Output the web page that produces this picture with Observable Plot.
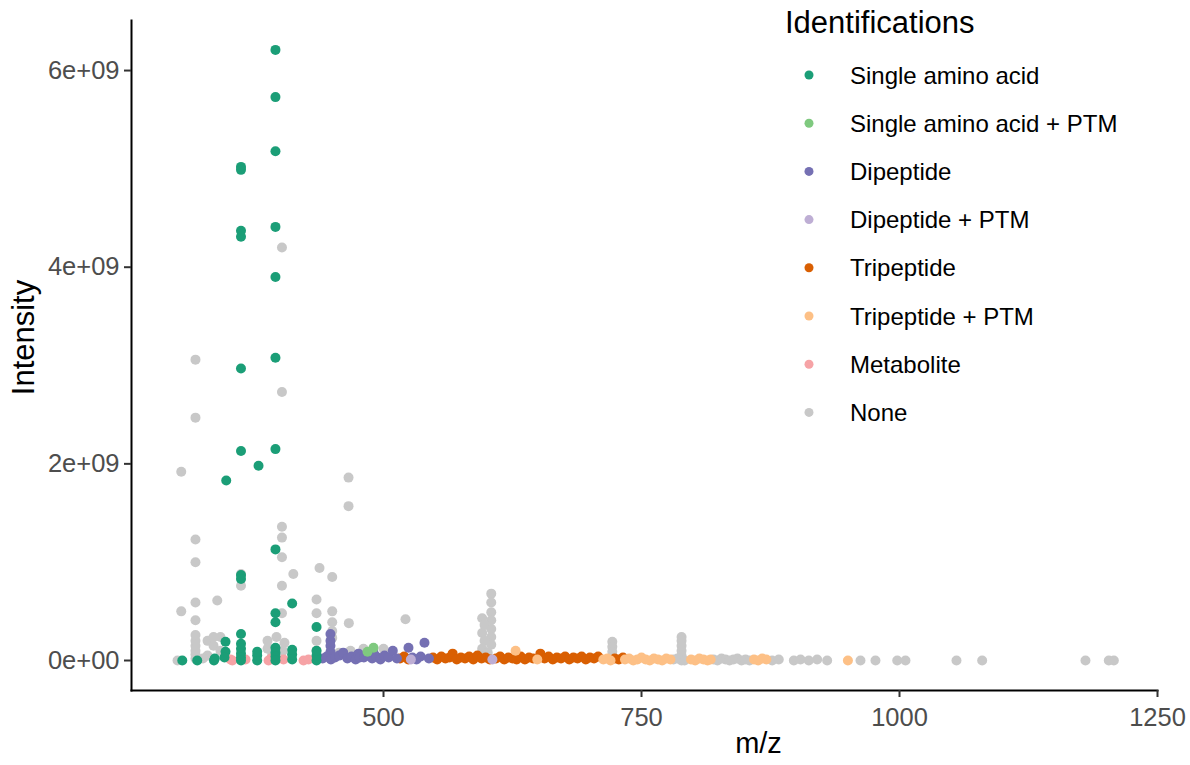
<!DOCTYPE html>
<html>
<head>
<meta charset="utf-8">
<script src="https://cdn.jsdelivr.net/npm/d3@7"></script>
<script src="https://cdn.jsdelivr.net/npm/@observablehq/plot@0.6"></script>
<style>
  html, body { margin: 0; padding: 0; background: #fff; }
  #wrap { position: relative; width: 1190px; height: 765px; }
  #legend { position: absolute; left: 0; top: 0; pointer-events: none; }
</style>
</head>
<body>
<div id="wrap"></div>
<script>
// ---------- data ----------
const categories = ["Single amino acid", "Single amino acid + PTM", "Dipeptide", "Dipeptide + PTM",
  "Tripeptide", "Tripeptide + PTM", "Metabolite", "None"];
const colors = ["#1B9E77", "#7FC97F", "#7570B3", "#BEAED4", "#D95F02", "#FDC086", "#F6A3A6", "#C8C8C8"];

const xTicks = [500, 750, 1000, 1250];
const yTicks = [0, 2e9, 4e9, 6e9];
const xDomain = [255.8, 1250];
const yDomain = [-0.305e9, 6.509e9];

// [m/z, intensity]
const singleAA = [
  [395.3, 6.21e9], [395.3, 5.73e9], [395.3, 5.18e9], [395.3, 4.41e9], [395.3, 3.90e9], [395.3, 3.08e9],
  [395.3, 2.15e9], [395.3, 1.13e9], [395.3, 0.48e9], [395.3, 0.39e9], [395.3, 0.13e9], [395.3, 0.08e9],
  [395.3, 0.04e9], [395.3, 0],
  [361.9, 5.02e9], [361.9, 4.99e9], [361.9, 4.37e9], [361.9, 4.31e9], [361.9, 2.97e9], [361.9, 2.13e9],
  [361.9, 0.87e9], [361.9, 0.83e9], [361.9, 0.27e9], [361.9, 0.17e9], [361.9, 0.12e9], [361.9, 0.07e9],
  [361.9, 0.03e9], [361.9, 0],
  [347.6, 1.83e9], [378.9, 1.98e9], [411.5, 0.58e9], [435.1, 0.34e9], [346.9, 0.19e9], [346.9, 0.09e9],
  [345.9, 0.03e9], [305.0, 0], [319.5, 0], [335.7, 0], [336.5, 0.02e9],
  [377.6, 0], [377.6, 0.05e9], [377.6, 0.09e9],
  [411.5, 0.01e9], [411.5, 0.06e9], [411.5, 0.11e9],
  [435.1, 0], [435.1, 0.05e9], [435.1, 0.10e9]
];
const singleAAPTM = [[490.3, 0.13e9], [484.5, 0.09e9]];
const dipeptide = [
  [448.6, 0.27e9], [448.6, 0.20e9], [448.6, 0.15e9], [448.6, 0.09e9],
  [441, 0.02e9], [445, 0.04e9], [449, 0.01e9], [453, 0.03e9], [457, 0.05e9], [461, 0.08e9], [465, 0.02e9],
  [469, 0.04e9], [473, 0.01e9], [475.8, 0.07e9], [477, 0.03e9], [481, 0.03e9], [485, 0.05e9], [489, 0.02e9],
  [490.3, 0.08e9], [493, 0.04e9], [497, 0.01e9], [501, 0.05e9], [505, 0.03e9], [509, 0.10e9], [513, 0.02e9],
  [524.2, 0.13e9], [528, 0.03e9], [532, 0.01e9], [536, 0.04e9], [539.7, 0.18e9], [544, 0.02e9]
];
const dipeptidePTM = [[605.5, 0.01e9], [526.5, 0.01e9]];
const tripeptide = [
  [516, 0.02e9], [520, 0.04e9], [524, 0.01e9],
  [548, 0.03e9], [552, 0.01e9], [556, 0.04e9], [560, 0.02e9], [564, 0.03e9], [567, 0.07e9], [571, 0.01e9],
  [575, 0.03e9], [579, 0.02e9], [583, 0.04e9], [587, 0.01e9], [591, 0.05e9], [595, 0.02e9], [599, 0.03e9],
  [603, 0.01e9], [609, 0.02e9], [613, 0.04e9], [617, 0.01e9], [621, 0.03e9], [625, 0.02e9], [629, 0.01e9],
  [633, 0.04e9], [637, 0.01e9], [641, 0.03e9], [645, 0.02e9], [652, 0.07e9], [656, 0.02e9], [660, 0.04e9],
  [664, 0.01e9], [668, 0.03e9], [672, 0.02e9], [676, 0.04e9], [680, 0.01e9], [684, 0.03e9], [688, 0.02e9],
  [692, 0.04e9], [696, 0.01e9], [700, 0.03e9], [704, 0.02e9], [708, 0.04e9], [724, 0.02e9], [728, 0.01e9],
  [732, 0.03e9]
];
const tripeptidePTM = [
  [628, 0.10e9], [649, 0.01e9], [713, 0.01e9], [717, 0.02e9], [720, 0], [734, 0.01e9], [738, 0.02e9],
  [742, 0], [746, 0.01e9], [750, 0.03e9], [754, 0.01e9], [758, 0], [762, 0.02e9], [766, 0.01e9], [770, 0],
  [774, 0.02e9], [778, 0.01e9], [798, 0.01e9], [802, 0], [806, 0.02e9], [810, 0.01e9], [814, 0],
  [817, 0.01e9], [859, 0.01e9], [863, 0], [867, 0.02e9], [871, 0.01e9], [950, 0]
];
const metabolite = [
  [351.7, 0.01e9], [353.5, 0], [366.3, 0.01e9], [388.6, 0], [391, 0.02e9], [403.1, 0.01e9], [422.5, 0], [427.3, 0.01e9]
];
const none = [
  [401.6, 4.20e9], [317.8, 3.06e9], [317.8, 2.47e9], [401.6, 2.73e9], [304.0, 1.92e9], [466.1, 1.86e9],
  [466.1, 1.57e9], [401.6, 1.36e9], [401.6, 1.25e9], [401.6, 1.05e9], [317.8, 1.23e9], [317.8, 1.00e9],
  [412.6, 0.88e9], [438.0, 0.94e9], [450.3, 0.85e9], [361.9, 0.88e9], [361.9, 0.76e9], [401.6, 0.76e9],
  [401.6, 0.48e9], [304.0, 0.50e9], [317.8, 0.59e9], [317.8, 0.41e9], [338.9, 0.61e9], [435.1, 0.62e9],
  [435.1, 0.48e9], [450.3, 0.50e9], [450.3, 0.39e9], [466.4, 0.38e9], [450.3, 0.30e9], [450.3, 0.23e9],
  [521.3, 0.42e9],
  [604.4, 0.68e9], [604.4, 0.59e9], [604.4, 0.49e9], [595.6, 0.43e9], [604.4, 0.41e9], [597.9, 0.36e9],
  [604.4, 0.32e9], [595.6, 0.28e9], [604.4, 0.24e9], [597.9, 0.20e9], [604.4, 0.16e9], [595.6, 0.12e9],
  [601, 0.08e9], [597, 0.04e9],
  [721.7, 0.19e9], [721.7, 0.14e9], [721.7, 0.09e9], [721.7, 0.04e9],
  [788.8, 0.24e9], [788.8, 0.20e9], [788.8, 0.15e9], [788.8, 0.10e9], [788.8, 0.05e9], [788.8, 0],
  [300.4, 0], [317.8, 0.02e9], [317.8, 0.06e9], [317.8, 0.10e9], [317.8, 0.15e9], [317.8, 0.20e9],
  [317.8, 0.26e9], [329.5, 0.20e9], [335.3, 0.24e9], [342.0, 0.24e9], [335.3, 0.15e9], [342.0, 0.10e9],
  [329.5, 0.05e9], [325, 0.02e9], [387.6, 0.20e9], [387.6, 0.12e9], [396.3, 0.24e9], [404, 0.18e9],
  [402.5, 0.10e9], [392, 0.05e9], [435.1, 0.20e9], [435.1, 0.10e9], [480.6, 0.12e9], [500, 0.12e9],
  [468, 0.10e9], [457, 0.08e9],
  [781.0, 0.01e9], [784.9, 0.02e9], [791.7, 0], [819.8, 0.01e9], [823.6, 0], [827.5, 0.02e9], [831.4, 0.01e9],
  [835.3, 0], [839.1, 0.01e9], [843, 0.02e9], [846.9, 0], [850.8, 0.01e9], [854.7, 0], [876.6, 0],
  [883.0, 0.01e9], [897.6, 0], [904.1, 0.01e9], [912.1, 0], [920.2, 0.01e9], [929.9, 0], [962.2, 0],
  [976.7, 0], [997.8, 0], [1005.8, 0], [1055.2, 0], [1080.1, 0], [1180.2, 0], [1202.8, 0], [1207.7, 0]
];

// draw order (first drawn underneath)
const drawOrder = [
  ["None", none], ["Metabolite", metabolite], ["Tripeptide", tripeptide], ["Tripeptide + PTM", tripeptidePTM],
  ["Dipeptide", dipeptide], ["Dipeptide + PTM", dipeptidePTM], ["Single amino acid + PTM", singleAAPTM],
  ["Single amino acid", singleAA]
];
const rows = drawOrder.flatMap(([cat, arr]) => arr.map(([mz, v]) => ({mz, v, cat})));

function sci(d) {
  if (d === 0) return "0e+00";
  const [m, e] = d.toExponential(0).split("e");
  return m + "e" + e[0] + e.slice(1).padStart(2, "0");
}

const font = "'Liberation Sans', Arial, Helvetica, sans-serif";

const chart = Plot.plot({
  width: 1190,
  height: 765,
  marginLeft: 131,
  marginRight: 33,
  marginTop: 20,
  marginBottom: 75,
  style: {fontFamily: font, background: "#fff", overflow: "visible"},
  x: {domain: xDomain},
  y: {domain: yDomain},
  color: {domain: categories, range: colors},
  marks: [
    Plot.dot(rows, {x: "mz", y: "v", fill: "cat", r: 5, stroke: "none"}),
    Plot.frame({anchor: "left", stroke: "#000", strokeWidth: 2}),
    Plot.frame({anchor: "bottom", stroke: "#000", strokeWidth: 2}),
    Plot.axisX({ticks: xTicks, tickFormat: d => String(d), tickSize: 7, tickPadding: 10, fontSize: 25.5,
      fill: "#4D4D4D", stroke: "#333", strokeWidth: 2, label: null}),
    Plot.axisY({ticks: yTicks, tickFormat: sci, tickSize: 7, tickPadding: 5, fontSize: 25.5, fill: "#4D4D4D",
      stroke: "#333", strokeWidth: 2, label: null}),
    Plot.text(["m/z"], {frameAnchor: "bottom", textAnchor: "middle", dx: 114, dy: 62, fontSize: 29,
      fill: "#000", text: d => d}),
    Plot.text(["Intensity"], {frameAnchor: "left", textAnchor: "middle", rotate: -90, dx: -107, dy: -18,
      fontSize: 31, fill: "#000", text: d => d})
  ]
});

const wrap = document.getElementById("wrap");
wrap.appendChild(chart);

// legend overlay
const lg = d3.select(wrap).append("svg")
  .attr("id", "legend").attr("width", 1190).attr("height", 765)
  .style("font-family", font);
lg.append("text").attr("x", 785).attr("y", 33).attr("font-size", 31).attr("fill", "#000").text("Identifications");
const items = lg.selectAll("g.item").data(categories).join("g").attr("class", "item")
  .attr("transform", (d, i) => `translate(809, ${75 + i * 48.2})`);
items.append("circle").attr("r", 4.5).attr("fill", (d, i) => colors[i]);
items.append("text").attr("x", 41).attr("dy", "0.36em").attr("font-size", 24).attr("fill", "#000").text(d => d);
</script>
</body>
</html>
